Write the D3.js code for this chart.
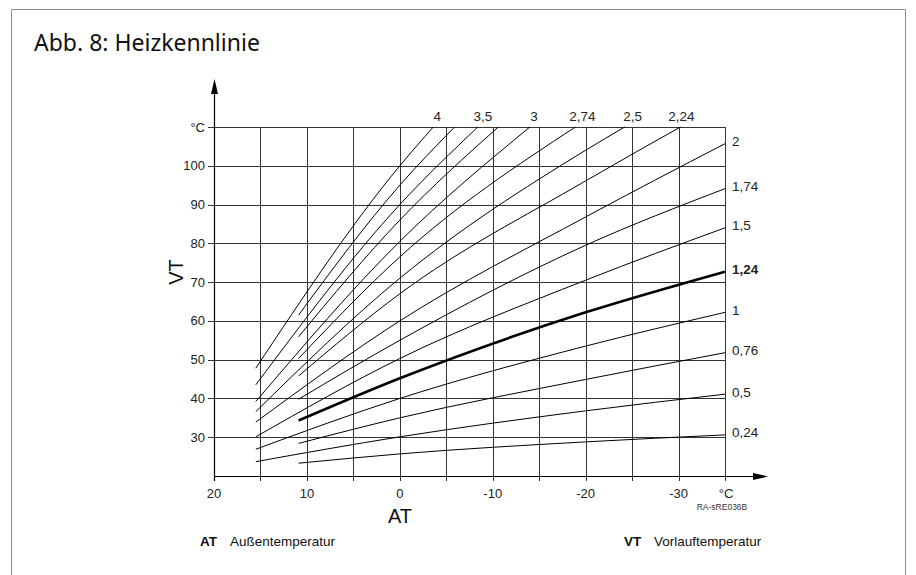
<!DOCTYPE html>
<html>
<head>
<meta charset="utf-8">
<script src="https://cdn.jsdelivr.net/npm/d3@7"></script>
<style>
body { margin: 0; background: #fff; }
svg text { font-family: "Liberation Sans", Arial, sans-serif; }
</style>
</head>
<body>
<div id="chart"></div>
<script>
// curve names (slope) and points: [AT, VT]
var curveNames = ["4", "3,74", "3,5", "3,24", "3", "2,74", "2,5", "2,24",
                  "2", "1,74", "1,5", "1,24", "1", "0,76", "0,5", "0,24"];
var c4   = [[15.5, 47.8], [0, 100], [-3.6, 110]];
var c374 = [[10.9, 61.5], [0, 95], [-5.9, 110]];
var c35  = [[15.5, 43.5], [0, 90], [-8.4, 110]];
var c324 = [[10.9, 55.9], [0, 86], [-10.6, 110]];
var c3   = [[15.5, 39.2], [0, 80.5], [-14, 110]];
var c274 = [[10.9, 50.3], [0, 76.5], [-18.9, 110]];
var c25  = [[15.5, 36.6], [0, 71], [-20, 104], [-24.2, 110]];
var c224 = [[10.9, 45.8], [0, 67], [-20, 96.1], [-30.2, 110]];
var c2   = [[15.5, 33.9], [0, 60], [-20, 86.8], [-35, 105.7]];
var c174 = [[10.9, 39.8], [0, 55], [-20, 79.5], [-35, 94.1]];
var c15  = [[15.5, 30.1], [0, 50.3], [-20, 70.5], [-35, 84]];
var c124 = [[10.9, 34.3], [0, 45.2], [-20, 62.2], [-35, 72.7]];
var c1   = [[15.5, 26.9], [0, 40], [-20, 53.5], [-35, 62.2]];
var c076 = [[10.9, 28.4], [0, 35], [-20, 44.9], [-35, 51.8]];
var c05  = [[15.5, 23.7], [0, 30.1], [-20, 36.8], [-35, 41.1]];
var c024 = [[10.9, 23.3], [0, 25.7], [-20, 28.8], [-35, 30.6]];
var curveData = [c4, c374, c35, c324, c3, c274, c25, c224, c2, c174, c15, c124, c1, c076, c05, c024];

// labels at the top (curves ending at 110) and at the right (curves ending at -35)
var topLabels = ["4", "3,5", "3", "2,74", "2,5", "2,24"];
var rightLabels = ["2", "1,74", "1,5", "1,24", "1", "0,76", "0,5", "0,24"];
var boldCurve = "1,24";

var xTicks = [20, 10, 0, -10, -20, -30];
var xGrid = [15, 10, 5, 0, -5, -10, -15, -20, -25, -30, -35];
var yTicks = [30, 40, 50, 60, 70, 80, 90, 100];
var yGrid = [30, 40, 50, 60, 70, 80, 90, 100, 110];

var W = 916, H = 575;
var svg = d3.select("#chart").append("svg")
  .attr("width", W).attr("height", H);

// frame
svg.append("path")
  .attr("d", "M11.5,575 V9.5 H905.5 V575")
  .attr("fill", "none").attr("stroke", "#8c8c8c").attr("stroke-width", 1);

svg.append("text")
  .attr("x", 34).attr("y", 51)
  .style("font-family", "'Noto Sans', 'Open Sans', sans-serif")
  .attr("font-size", 23)
  .attr("fill", "#111")
  .text("Abb. 8: Heizkennlinie");

var x = d3.scaleLinear().domain([20, -35]).range([214, 725]);
var y = d3.scaleLinear().domain([20, 110]).range([476, 127]);

var grid = svg.append("g").attr("stroke", "#333").attr("stroke-width", 1);
grid.selectAll(".vg").data(xGrid).enter().append("line")
  .attr("x1", function(d) { return Math.round(x(d)) + 0.5; })
  .attr("x2", function(d) { return Math.round(x(d)) + 0.5; })
  .attr("y1", y(110)).attr("y2", y(20) + 5);
grid.selectAll(".hg").data(yGrid).enter().append("line")
  .attr("y1", function(d) { return Math.round(y(d)) + 0.5; })
  .attr("y2", function(d) { return Math.round(y(d)) + 0.5; })
  .attr("x1", x(20) - 6).attr("x2", x(-35));

// axes with arrows
var ax = svg.append("g").attr("stroke", "#000").attr("stroke-width", 1.2);
ax.append("line").attr("x1", x(20) + 0.5).attr("x2", x(20) + 0.5)
  .attr("y1", y(20) + 5).attr("y2", 88);
ax.append("line").attr("x1", x(20)).attr("x2", 760)
  .attr("y1", Math.round(y(20)) + 0.5).attr("y2", Math.round(y(20)) + 0.5);
svg.append("path").attr("d", "M" + (x(20) + 0.5) + ",79 l-3.5,15 h7 z").attr("fill", "#000");
svg.append("path").attr("d", "M768," + (Math.round(y(20)) + 0.5) + " l-15,-3.5 v7 z").attr("fill", "#000");

// y tick labels
svg.selectAll(".yl").data(yTicks).enter().append("text")
  .attr("x", 205).attr("y", function(d) { return y(d) + 4.5; })
  .attr("text-anchor", "end").attr("font-size", 13).attr("fill", "#222")
  .text(function(d) { return d; });
svg.append("text").attr("x", 205).attr("y", y(110) + 4.5)
  .attr("text-anchor", "end").attr("font-size", 13).attr("fill", "#222").text("°C");

// x tick labels
svg.selectAll(".xl").data(xTicks).enter().append("text")
  .attr("x", function(d) { return x(d); }).attr("y", 498)
  .attr("text-anchor", "middle").attr("font-size", 13).attr("fill", "#222")
  .text(function(d) { return d; });
svg.append("text").attr("x", x(-35) + 1).attr("y", 498)
  .attr("text-anchor", "middle").attr("font-size", 13).attr("fill", "#222").text("°C");

svg.append("text").attr("x", 400).attr("y", 523)
  .attr("text-anchor", "middle").attr("font-size", 20).attr("fill", "#111").text("AT");
svg.append("text").attr("transform", "translate(183,272) rotate(-90)")
  .attr("text-anchor", "middle").attr("font-size", 20).attr("fill", "#111").text("VT");
svg.append("text").attr("x", 722).attr("y", 510)
  .attr("text-anchor", "middle").attr("font-size", 8.5).attr("fill", "#333").text("RA-sRE036B");

// curves
var line = d3.line()
  .x(function(d) { return x(d[0]); })
  .y(function(d) { return y(d[1]); })
  .curve(d3.curveMonotoneX);

svg.append("g").selectAll("path").data(curveData).enter().append("path")
  .attr("d", line)
  .attr("fill", "none")
  .attr("stroke", "#000")
  .attr("stroke-width", function(d, i) { return curveNames[i] === boldCurve ? 2.6 : 1; });

// labels at the top, nudged right of where each curve meets the top line
var topShift = [4, 5, 4, 7, 8, 1];
svg.selectAll(".tl").data(topLabels).enter().append("text")
  .attr("x", function(d, i) {
    var pts = curveData[curveNames.indexOf(d)];
    return x(pts[pts.length - 1][0]) + topShift[i];
  })
  .attr("y", 121)
  .attr("text-anchor", "middle").attr("font-size", 13.5).attr("fill", "#222")
  .text(function(d) { return d; });

// labels at the right
svg.selectAll(".rl").data(rightLabels).enter().append("text")
  .attr("x", 732)
  .attr("y", function(d) {
    var pts = curveData[curveNames.indexOf(d)];
    return y(pts[pts.length - 1][1]) + 2.5;
  })
  .attr("font-size", 13.5).attr("fill", "#222")
  .attr("font-weight", function(d) { return d === boldCurve ? "bold" : "normal"; })
  .text(function(d) { return d; });

// legend
var leg = svg.append("g")
  .style("font-family", "'Noto Sans', 'Open Sans', sans-serif")
  .attr("font-size", 13.5).attr("fill", "#111");
leg.append("text").attr("x", 200).attr("y", 546).attr("font-weight", "bold").text("AT");
leg.append("text").attr("x", 230).attr("y", 546).text("Außentemperatur");
leg.append("text").attr("x", 624).attr("y", 546).attr("font-weight", "bold").text("VT");
leg.append("text").attr("x", 654).attr("y", 546).text("Vorlauftemperatur");
</script>
</body>
</html>
